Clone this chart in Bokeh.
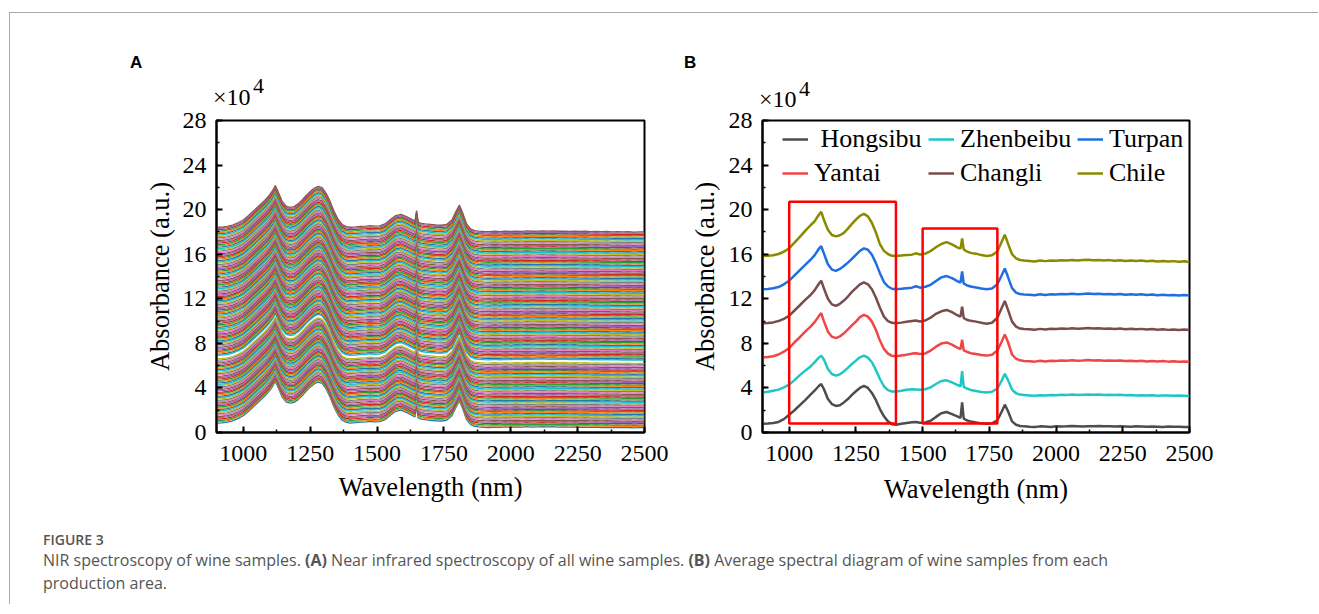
import numpy as np
from bokeh.plotting import figure
from bokeh.models import Range1d, SingleIntervalTicker, Legend, LegendItem, Div
from bokeh.layouts import row, column
from bokeh.embed import file_html
from bokeh.resources import INLINE

# ---------------- data ----------------
wavelength = [900, 920, 940, 960, 980, 1000, 1020, 1040, 1060, 1080,
              1095, 1110, 1120, 1130, 1145, 1160, 1175, 1190, 1205, 1220, 1235, 1250, 1265,
              1280, 1295, 1310, 1325, 1340, 1355, 1370, 1385, 1400,
              1420, 1440, 1460, 1475, 1490, 1510, 1530, 1550, 1570, 1590, 1610, 1630,
              1642, 1648, 1654, 1665, 1680, 1700, 1720, 1740, 1760, 1780,
              1795, 1808, 1820, 1835, 1850, 1865, 1880,
              1900, 1920, 1940, 1960, 1980, 2000, 2020, 2040, 2060, 2080, 2100, 2120, 2140,
              2160, 2180, 2200, 2220, 2240, 2260, 2280, 2300, 2320, 2340, 2360, 2380, 2400,
              2420, 2440, 2460, 2480, 2500]

hongsibu = [0.78, 0.80, 0.85, 0.95, 1.20, 1.60, 2.00, 2.45, 2.90, 3.40,
            3.75, 4.15, 4.35, 3.90, 3.00, 2.55, 2.38, 2.45, 2.70, 3.00, 3.38, 3.70, 4.00,
            4.18, 4.00, 3.55, 2.90, 2.10, 1.45, 1.00, 0.75, 0.70,
            0.78, 0.86, 0.92, 0.95, 0.88, 0.90, 1.05, 1.40, 1.72, 1.84, 1.65, 1.45,
            1.32, 2.70, 1.25, 1.10, 0.98, 0.90, 0.82, 0.78, 0.82, 1.10,
            1.80, 2.50, 1.90, 1.00, 0.70, 0.58, 0.55,
            0.52, 0.50, 0.55, 0.53, 0.49, 0.56, 0.54, 0.55, 0.58, 0.56, 0.54, 0.57, 0.55,
            0.58, 0.56, 0.55, 0.53, 0.56, 0.54, 0.52, 0.55, 0.53, 0.51, 0.54, 0.52, 0.50,
            0.53, 0.51, 0.52, 0.50, 0.49]

zhenbeibu = [3.60, 3.65, 3.75, 3.85, 4.05, 4.30, 4.70, 5.15, 5.55, 5.93,
             6.30, 6.70, 6.90, 6.55, 5.70, 5.25, 5.10, 5.22, 5.48, 5.80, 6.15, 6.45, 6.75,
             6.90, 6.72, 6.30, 5.60, 4.80, 4.15, 3.80, 3.68, 3.67,
             3.74, 3.84, 3.88, 3.86, 3.84, 3.88, 4.05, 4.35, 4.62, 4.68, 4.50, 4.28,
             4.15, 5.50, 4.10, 3.95, 3.82, 3.72, 3.64, 3.60, 3.66, 3.95,
             4.60, 5.27, 4.70, 3.85, 3.52, 3.40, 3.36,
             3.33, 3.30, 3.35, 3.32, 3.36, 3.34, 3.38, 3.36, 3.40, 3.37, 3.39, 3.41, 3.38,
             3.40, 3.37, 3.39, 3.36, 3.38, 3.34, 3.36, 3.33, 3.35, 3.31, 3.34, 3.30, 3.33,
             3.31, 3.29, 3.32, 3.30, 3.28]

turpan = [12.85, 12.88, 12.94, 13.05, 13.30, 13.62, 14.10, 14.58, 15.05, 15.50,
          15.90, 16.45, 16.72, 16.08, 15.10, 14.62, 14.50, 14.68, 14.94, 15.25, 15.58, 15.95, 16.30,
          16.52, 16.40, 15.95, 15.20, 14.30, 13.50, 13.10, 12.90, 12.86,
          12.90, 12.95, 13.00, 13.12, 13.00, 13.08, 13.25, 13.60, 13.92, 14.04, 13.85, 13.58,
          13.45, 14.45, 13.35, 13.22, 13.10, 13.02, 12.92, 12.86, 12.92, 13.30,
          14.05, 14.72, 13.95, 12.95, 12.55, 12.42, 12.38,
          12.37, 12.32, 12.40, 12.35, 12.41, 12.38, 12.43, 12.40, 12.45, 12.41, 12.44, 12.47, 12.43,
          12.46, 12.41, 12.44, 12.39, 12.43, 12.37, 12.41, 12.36, 12.40, 12.34, 12.38, 12.32, 12.37,
          12.31, 12.35, 12.30, 12.34, 12.29]

yantai = [6.74, 6.78, 6.84, 7.00, 7.25, 7.58, 8.10, 8.55, 9.05, 9.50,
          9.90, 10.40, 10.72, 10.00, 9.05, 8.60, 8.47, 8.62, 8.90, 9.25, 9.62, 9.95, 10.35,
          10.55, 10.40, 9.95, 9.20, 8.25, 7.50, 7.08, 6.88, 6.85,
          6.92, 6.98, 7.08, 7.12, 7.04, 7.10, 7.35, 7.70, 7.98, 8.08, 7.88, 7.62,
          7.48, 8.32, 7.38, 7.25, 7.12, 7.05, 6.95, 6.90, 6.98, 7.35,
          8.10, 8.80, 8.10, 7.00, 6.62, 6.48, 6.42,
          6.40, 6.36, 6.43, 6.38, 6.44, 6.41, 6.46, 6.43, 6.48, 6.45, 6.47, 6.50, 6.46,
          6.48, 6.44, 6.47, 6.43, 6.46, 6.41, 6.44, 6.40, 6.43, 6.38, 6.42, 6.37, 6.41,
          6.36, 6.39, 6.35, 6.38, 6.34]

changli = [9.80, 9.82, 9.88, 10.00, 10.20, 10.48, 10.95, 11.42, 11.90, 12.34,
           12.75, 13.30, 13.62, 12.95, 12.00, 11.50, 11.36, 11.55, 11.84, 12.20, 12.62, 12.95, 13.30,
           13.48, 13.30, 12.85, 12.10, 11.20, 10.40, 10.00, 9.84, 9.80,
           9.86, 9.93, 10.00, 10.05, 9.96, 10.05, 10.30, 10.65, 10.88, 11.00, 10.80, 10.52,
           10.40, 11.30, 10.28, 10.12, 10.02, 9.95, 9.85, 9.76, 9.85, 10.30,
           11.10, 11.80, 11.00, 9.95, 9.50, 9.33, 9.28,
           9.26, 9.22, 9.30, 9.25, 9.31, 9.28, 9.33, 9.30, 9.35, 9.31, 9.34, 9.37, 9.33,
           9.36, 9.31, 9.34, 9.29, 9.33, 9.27, 9.31, 9.26, 9.30, 9.24, 9.28, 9.22, 9.27,
           9.21, 9.25, 9.20, 9.24, 9.19]

chile = [15.83, 15.86, 15.90, 16.02, 16.22, 16.52, 17.05, 17.55, 18.10, 18.60,
         18.95, 19.50, 19.80, 19.10, 18.20, 17.72, 17.60, 17.70, 17.92, 18.30, 18.72, 19.10, 19.45,
         19.62, 19.40, 18.80, 17.95, 16.90, 16.30, 16.02, 15.86, 15.84,
         15.88, 15.92, 15.96, 16.08, 15.98, 16.05, 16.28, 16.62, 16.92, 17.08, 16.88, 16.62,
         16.50, 17.42, 16.42, 16.25, 16.12, 16.05, 15.92, 15.84, 15.90, 16.25,
         17.05, 17.75, 16.95, 16.00, 15.62, 15.48, 15.44,
         15.40, 15.35, 15.43, 15.38, 15.44, 15.41, 15.46, 15.43, 15.48, 15.44, 15.47, 15.50, 15.46,
         15.49, 15.44, 15.47, 15.42, 15.46, 15.40, 15.44, 15.39, 15.43, 15.37, 15.41, 15.35, 15.40,
         15.34, 15.38, 15.33, 15.37, 15.30]

series_names = [" Hongsibu", "Zhenbeibu", "Turpan", "Yantai", "Changli", "Chile"]
series_values = [hongsibu, zhenbeibu, turpan, yantai, changli, chile]
series_colors = ["#4d4d4d", "#1fc6c6", "#1f6fe0", "#f04646", "#7a4c4c", "#8a8a00"]

# panel A: common spectral profile (relative to each sample's baseline at 900 nm)
profile_a = [0.00, 0.02, 0.08, 0.20, 0.40, 0.65, 1.05, 1.50, 1.95, 2.40,
             2.80, 3.30, 3.75, 3.20, 2.35, 1.90, 1.78, 1.85, 2.10, 2.45, 2.85, 3.20, 3.50,
             3.68, 3.55, 3.05, 2.30, 1.40, 0.70, 0.25, 0.05, 0.00,
             0.03, 0.08, 0.10, 0.14, 0.10, 0.12, 0.30, 0.70, 1.05, 1.15, 0.95, 0.70,
             0.55, 1.50, 0.45, 0.35, 0.30, 0.25, 0.20, 0.18, 0.25, 0.65,
             1.40, 2.00, 1.30, 0.30, -0.15, -0.30, -0.35,
             -0.38, -0.40, -0.36, -0.39, -0.35, -0.38, -0.34, -0.37, -0.33, -0.36, -0.34, -0.32, -0.35,
             -0.33, -0.36, -0.34, -0.37, -0.35, -0.38, -0.36, -0.39, -0.37, -0.40, -0.38, -0.41, -0.39,
             -0.42, -0.40, -0.43, -0.41, -0.42]

# panel A: baseline of every sample spectrum at 900 nm
sample_offsets = [0.85, 0.97, 1.08, 1.21, 1.33, 1.44, 1.57, 1.69, 1.80, 1.93, 2.05, 2.16, 2.29, 2.41,
                  2.52, 2.65, 2.77, 2.88, 3.01, 3.13, 3.24, 3.37, 3.49, 3.60, 3.73, 3.85, 3.96, 4.09,
                  4.21, 4.32, 4.45, 4.57, 4.68, 4.81, 4.93, 5.04, 5.17, 5.29, 5.40, 5.53, 5.65, 5.76,
                  5.89, 6.01, 6.12, 6.25, 6.37, 6.50, 6.62, 6.92, 7.04, 7.15, 7.28, 7.40, 7.51, 7.64,
                  7.76, 7.87, 8.00, 8.12, 8.23, 8.36, 8.48, 8.59, 8.72, 8.84, 8.95, 9.08, 9.20, 9.31,
                  9.44, 9.56, 9.67, 9.80, 9.92, 10.03, 10.16, 10.28, 10.39, 10.52, 10.64, 10.75, 10.88,
                  11.00, 11.11, 11.24, 11.36, 11.47, 11.60, 11.72, 11.83, 11.96, 12.08, 12.19, 12.32,
                  12.44, 12.55, 12.68, 12.80, 12.91, 13.04, 13.16, 13.27, 13.40, 13.52, 13.63, 13.76,
                  13.88, 13.99, 14.12, 14.24, 14.35, 14.48, 14.60, 14.71, 14.84, 14.96, 15.07, 15.20,
                  15.32, 15.43, 15.56, 15.68, 15.79, 15.92, 16.04, 16.15, 16.28, 16.40, 16.51, 16.64,
                  16.76, 16.87, 17.00, 17.12, 17.23, 17.36, 17.48, 17.59, 17.72, 17.84, 17.95, 18.08,
                  18.20, 18.31, 18.42]
palette_a = ["#1f77b4", "#ff7f0e", "#2ca02c", "#d62728", "#9467bd",
             "#8c564b", "#e377c2", "#7f7f7f", "#bcbd22", "#17becf"]

# highlighted regions in panel B
box_left = [1000, 1500]
box_right = [1400, 1780]
box_bottom = [0.8, 0.8]
box_top = [20.7, 18.3]

x_ticks_interval = 250
y_ticks_interval = 4

SERIF = "Liberation Serif"


def style(p, ylab_standoff, xlab_standoff):
    p.xgrid.visible = False
    p.ygrid.visible = False
    p.outline_line_color = "black"
    p.outline_line_width = 2
    p.background_fill_color = "white"
    p.border_fill_alpha = 0
    p.xaxis.ticker = SingleIntervalTicker(interval=x_ticks_interval, num_minor_ticks=2)
    p.yaxis.ticker = SingleIntervalTicker(interval=y_ticks_interval, num_minor_ticks=2)
    for ax in (p.xaxis[0], p.yaxis[0]):
        ax.axis_line_color = "black"
        ax.axis_line_width = 2
        ax.major_tick_in = 6
        ax.major_tick_out = 0
        ax.minor_tick_in = 3
        ax.minor_tick_out = 0
        ax.major_tick_line_width = 2
        ax.minor_tick_line_width = 1.5
        ax.major_tick_line_color = "black"
        ax.minor_tick_line_color = "black"
        ax.major_label_text_font = SERIF
        ax.major_label_text_font_size = "24px"
        ax.major_label_text_color = "black"
        ax.axis_label_text_font = SERIF
        ax.axis_label_text_font_size = "26.5px"
        ax.axis_label_text_font_style = "normal"
        ax.axis_label_text_color = "black"
    p.xaxis.major_label_standoff = 13
    p.yaxis.major_label_standoff = 10
    p.xaxis.axis_label = "Wavelength (nm)"
    p.yaxis.axis_label = "Absorbance (a.u.)"
    p.xaxis.axis_label_standoff = xlab_standoff
    p.yaxis.axis_label_standoff = ylab_standoff


# ---------------- panel A ----------------
pA = figure(width=670, height=407, x_range=Range1d(900, 2500), y_range=Range1d(0, 28),
            output_backend="svg", toolbar_location=None,
            min_border_left=206, min_border_right=36, min_border_top=15, min_border_bottom=77)
style(pA, 5, 8)
prof = np.array(profile_a)
xs_a = [wavelength for _ in sample_offsets]
ys_a = [list(prof + off) for off in sample_offsets]
cols_a = [palette_a[i % len(palette_a)] for i in range(len(sample_offsets))]
pA.multi_line(xs=xs_a, ys=ys_a, line_color=cols_a, line_width=1.3)

# ---------------- panel B ----------------
pB = figure(width=628, height=407, x_range=Range1d(900, 2500), y_range=Range1d(0, 28),
            output_backend="svg", toolbar_location=None,
            min_border_left=82, min_border_right=119, min_border_top=18, min_border_bottom=76)
style(pB, 6, 10)
renderers = []
for name, vals, col in zip(series_names, series_values, series_colors):
    r = pB.line(wavelength, vals, line_color=col, line_width=2.5)
    renderers.append(r)
pB.quad(left=box_left, right=box_right, bottom=box_bottom, top=box_top,
        fill_alpha=0, line_color="#ff0000", line_width=2.5)

legend_x = [20, 166, 315]
for c in range(3):
    items = [LegendItem(label=series_names[c], renderers=[renderers[c]]),
             LegendItem(label=series_names[c + 3], renderers=[renderers[c + 3]])]
    leg = Legend(items=items, location=(legend_x[c], 244), orientation="vertical",
                 label_text_font=SERIF, label_text_font_size="26px", label_text_color="black",
                 glyph_width=26, glyph_height=30, label_height=30, spacing=4,
                 padding=0, margin=0, label_standoff=6,
                 border_line_alpha=0, background_fill_alpha=0)
    pB.add_layout(leg, "center")

# ---------------- header (panel letters and axis multiplier) ----------------
SER = "font-family:'Liberation Serif'; color:#000; position:absolute; white-space:nowrap;"
SAN = "font-family:'Liberation Sans'; font-weight:bold; color:#000; position:absolute; font-size:17px; line-height:17px;"
header_html = (
    '<div style="position:relative; width:1308px; height:98px;">'
    f'<span style="{SAN} left:120px; top:41px;">A</span>'
    f'<span style="{SER} left:203px; top:72px; font-size:24px; line-height:24px;">×10</span>'
    f'<span style="{SER} left:243px; top:62px; font-size:22px; line-height:22px;">4</span>'
    f'<span style="{SAN} left:674px; top:41px;">B</span>'
    f'<span style="{SER} left:749px; top:74px; font-size:24px; line-height:24px;">×10</span>'
    f'<span style="{SER} left:789px; top:65px; font-size:22px; line-height:22px;">4</span>'
    '</div>'
)
header = Div(text=header_html, width=1308, height=98, margin=(0, 0, 0, 0))

caption_html = (
    '<div style="font-family:\'Open Sans\'; color:#555555; padding-left:33px; padding-top:22px;">'
    '<div style="font-size:14px; line-height:18px; font-weight:600; color:#555555;">FIGURE 3</div>'
    '<div style="font-size:16px; line-height:23px; white-space:nowrap;">'
    'NIR spectroscopy of wine samples. <b>(A)</b> Near infrared spectroscopy of all wine samples. '
    '<b>(B)</b> Average spectral diagram of wine samples from each<br>production area.</div></div>'
)
cap = Div(text=caption_html, width=1308, height=95, margin=(0, 0, 0, 0))

plots = row(pA, pB, styles={"margin-top": "-9px"})
layout = column(header, plots, cap,
                styles={"border-top": "1px solid #aaaaaa", "border-left": "1px solid #aaaaaa",
                        "margin-top": "12px", "margin-left": "9px"})

open("out.html", "w").write(file_html(layout, INLINE))
